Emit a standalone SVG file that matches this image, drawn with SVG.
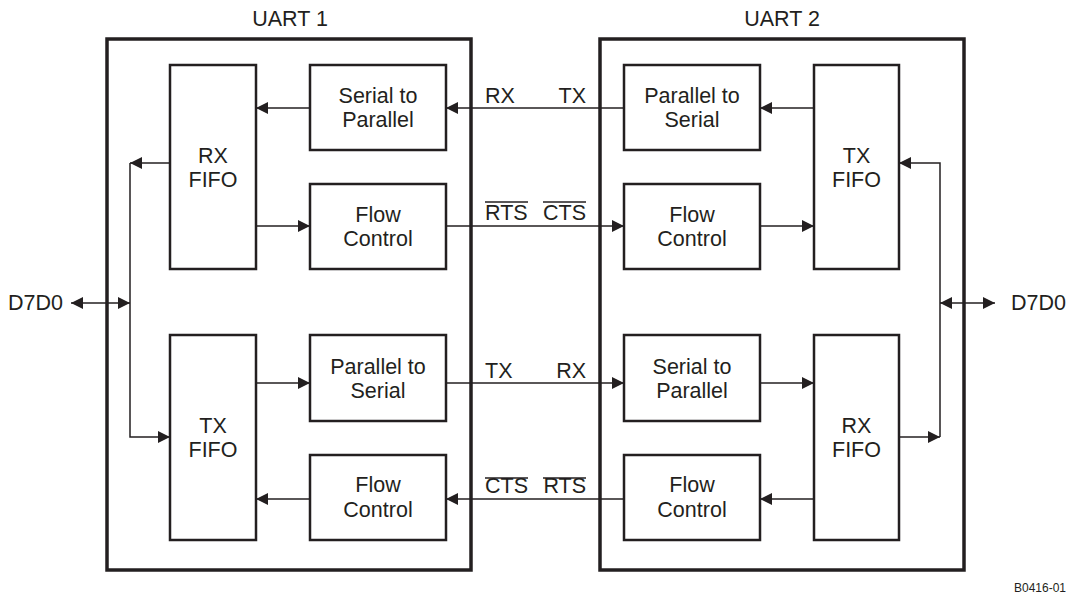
<svg xmlns="http://www.w3.org/2000/svg" width="1068" height="594" viewBox="0 0 1068 594">
<style>
.outer{fill:none;stroke:#231f20;stroke-width:3.5}
.box{fill:#fff;stroke:#231f20;stroke-width:2.5}
.t{font-family:"Liberation Sans",Arial,sans-serif;font-size:21.5px;fill:#231f20;text-anchor:middle}
.l{font-family:"Liberation Sans",Arial,sans-serif;font-size:21.5px;fill:#231f20}
.c{fill:none;stroke:#231f20;stroke-width:1.5}
.a{marker-end:url(#ah)}
.ov{stroke:#231f20;stroke-width:1.4}
</style>
<defs>
<marker id="ah" markerUnits="userSpaceOnUse" markerWidth="13" markerHeight="12" refX="12" refY="6" orient="auto-start-reverse" viewBox="0 0 13 12">
<path d="M0,0 L12,6 L0,12 z" fill="#231f20"/>
</marker>
</defs>
<rect width="1068" height="594" fill="#fff"/>
<g id="uart1">
<rect class="outer" x="107" y="39" width="364" height="531"/>
<text class="t" x="290" y="26">UART 1</text>
</g>
<g id="uart2">
<rect class="outer" x="600" y="39" width="364" height="531"/>
<text class="t" x="782" y="26">UART 2</text>
</g>
<g id="connectors">
<path class="c a" d="M624,108 H446"/>
<path class="c a" d="M310,108 H256"/>
<path class="c a" d="M170,163 H130"/>
<path class="c a" d="M256,226 H310"/>
<path class="c a" d="M446,226 H624"/>
<path class="c a" d="M130,163 V437 H170"/>
<path class="c a" d="M71,303 H130" marker-start="url(#ah)"/>
<path class="c a" d="M256,383 H310"/>
<path class="c a" d="M446,383 H624"/>
<path class="c a" d="M624,499 H446"/>
<path class="c a" d="M310,499 H256"/>
<path class="c a" d="M814,108 H760"/>
<path class="c a" d="M760,226 H814"/>
<path class="c a" d="M940,437 V163 H899"/>
<path class="c a" d="M899,437 H940"/>
<path class="c a" d="M940,303 H995" marker-start="url(#ah)"/>
<path class="c a" d="M760,383 H814"/>
<path class="c a" d="M814,499 H760"/>
</g>
<g id="u1-rxfifo"><rect class="box" x="170" y="65" width="86" height="204"/><text class="t" x="213" y="163">RX</text><text class="t" x="213" y="187">FIFO</text></g>
<g id="u1-s2p"><rect class="box" x="310" y="65" width="136" height="85"/><text class="t" x="378" y="103">Serial to</text><text class="t" x="378" y="127">Parallel</text></g>
<g id="u1-fc1"><rect class="box" x="310" y="184" width="136" height="85"/><text class="t" x="378" y="222">Flow</text><text class="t" x="378" y="246">Control</text></g>
<g id="u1-txfifo"><rect class="box" x="170" y="335" width="86" height="205"/><text class="t" x="213" y="433">TX</text><text class="t" x="213" y="457">FIFO</text></g>
<g id="u1-p2s"><rect class="box" x="310" y="335" width="136" height="86"/><text class="t" x="378" y="374">Parallel to</text><text class="t" x="378" y="398">Serial</text></g>
<g id="u1-fc2"><rect class="box" x="310" y="455" width="136" height="85"/><text class="t" x="378" y="492">Flow</text><text class="t" x="378" y="517">Control</text></g>
<g id="u2-p2s"><rect class="box" x="624" y="65" width="136" height="85"/><text class="t" x="692" y="103">Parallel to</text><text class="t" x="692" y="127">Serial</text></g>
<g id="u2-fc1"><rect class="box" x="624" y="184" width="136" height="85"/><text class="t" x="692" y="222">Flow</text><text class="t" x="692" y="246">Control</text></g>
<g id="u2-txfifo"><rect class="box" x="814" y="65" width="85" height="204"/><text class="t" x="856.5" y="163">TX</text><text class="t" x="856.5" y="187">FIFO</text></g>
<g id="u2-s2p"><rect class="box" x="624" y="335" width="136" height="86"/><text class="t" x="692" y="374">Serial to</text><text class="t" x="692" y="398">Parallel</text></g>
<g id="u2-rxfifo"><rect class="box" x="814" y="335" width="85" height="205"/><text class="t" x="856.5" y="433">RX</text><text class="t" x="856.5" y="457">FIFO</text></g>
<g id="u2-fc2"><rect class="box" x="624" y="455" width="136" height="85"/><text class="t" x="692" y="492">Flow</text><text class="t" x="692" y="517">Control</text></g>
<g id="labels">
<text class="l" x="485" y="103">RX</text>
<text class="l" x="586" y="103" text-anchor="end">TX</text>
<text class="l" x="485" y="220">RTS</text>
<text class="l" x="586" y="220" text-anchor="end">CTS</text>
<line class="ov" x1="485" y1="202" x2="528" y2="202"/>
<line class="ov" x1="543" y1="202" x2="586" y2="202"/>
<text class="l" x="485" y="378">TX</text>
<text class="l" x="586" y="378" text-anchor="end">RX</text>
<text class="l" x="485" y="493">CTS</text>
<text class="l" x="586" y="493" text-anchor="end">RTS</text>
<line class="ov" x1="485" y1="478" x2="528" y2="478"/>
<line class="ov" x1="543" y1="478" x2="586" y2="478"/>
</g>
<g id="d7d0-left"><text class="l" x="8" y="310">D7D0</text></g>
<g id="d7d0-right"><text class="l" x="1011" y="310">D7D0</text></g>
<text x="1066" y="592" text-anchor="end" font-family="Liberation Sans,Arial,sans-serif" font-size="12" fill="#231f20">B0416-01</text>
</svg>
